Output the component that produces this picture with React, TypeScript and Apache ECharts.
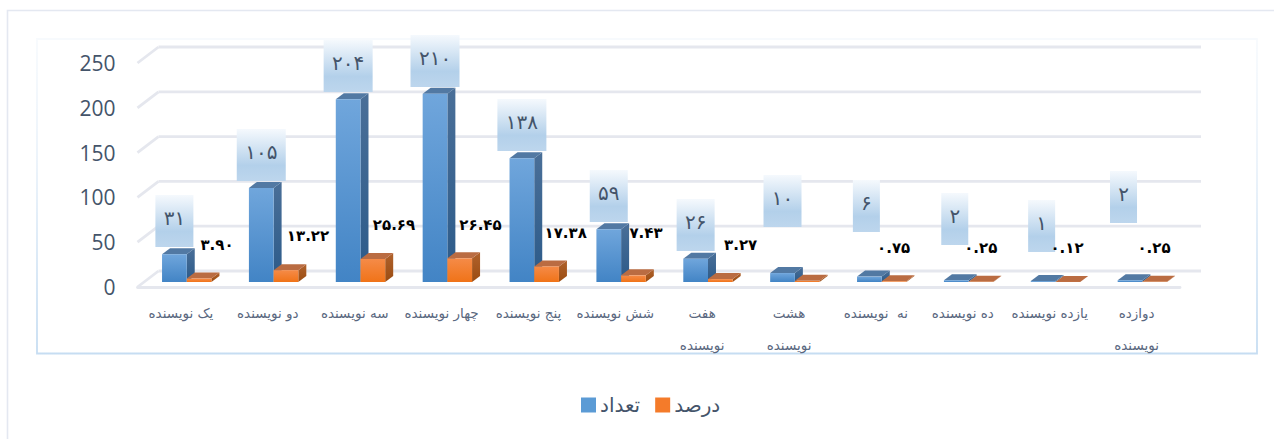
import React, { useEffect, useRef } from "react";
import * as echarts from "echarts";

const categories = [
  "یک نویسنده", "دو نویسنده", "سه نویسنده", "چهار نویسنده", "پنج نویسنده", "شش نویسنده",
  "هفت\nنویسنده", "هشت\nنویسنده", "نه  نویسنده", "ده نویسنده", "یازده نویسنده", "دوازده\nنویسنده",
];
const countValues = [31, 105, 204, 210, 138, 59, 26, 10, 6, 2, 1, 2];
const percentValues = [3.9, 13.22, 25.69, 26.45, 17.38, 7.43, 3.27, 1.26, 0.75, 0.25, 0.12, 0.25];
const countLabels = ["۳۱", "۱۰۵", "۲۰۴", "۲۱۰", "۱۳۸", "۵۹", "۲۶", "۱۰", "۶", "۲", "۱", "۲"];
const percentLabels = ["۳.۹۰", "۱۳.۲۲", "۲۵.۶۹", "۲۶.۴۵", "۱۷.۳۸", "۷.۴۳", "۳.۲۷", "", "۰.۷۵", "۰.۲۵", "۰.۱۲", "۰.۲۵"];
const yTicks = [0, 50, 100, 150, 200, 250];

// Hand placement of the data-label boxes, as in the original (box bottom, box x shift)
const countBoxBottom = [247, 181, 92, 87, 151, 222, 251, 227, 232, 245, 252, 223];
const countBoxShift = [0, 0, 0, 0, 0, 0, 0, 0, -3, -1.5, -1.5, -6.5];
const percentLabelX = [217, 308, 394, 480.5, 565.7, 646, 740.7, 0, 893.7, 980.8, 1067, 1154];
const percentLabelY = [245, 236, 225, 225, 233, 233, 245, 0, 248, 248, 248, 248];

const GRID = { left: 137.5, top: 63, width: 1042.5, height: 224 };
const SLATE = "#44546A";
const LINE = "#E5E7EE";
const BAR_W = 24.7;
const DX = 8;
const DY = 6;
const BASE_LIFT = 5;
const GROUP_SHIFT = 5.8;

const grad = (top: string, bottom: string) => ({
  type: "linear", x: 0, y: 0, x2: 0, y2: 1,
  colorStops: [{ offset: 0, color: top }, { offset: 1, color: bottom }],
});

const poly = (points: number[][], fill: any) => ({
  type: "polygon", shape: { points }, style: { fill },
});

function barRenderer(isCount: boolean) {
  return (params: any, api: any) => {
    const i = api.value(0);
    const v = api.value(1);
    const c = api.coord([i, v]);
    const zero = api.coord([i, 0]);
    const x0 = c[0] + GROUP_SHIFT + (isCount ? -BAR_W : 0);
    const x1 = x0 + BAR_W;
    const yTop = c[1] - BASE_LIFT;
    const yBase = zero[1] - BASE_LIFT;
    const children: any[] = [
      poly([[x1, yTop], [x1 + DX, yTop - DY], [x1 + DX, yBase - DY], [x1, yBase]],
        isCount ? grad("#4A6F98", "#2B5A89") : grad("#B0622C", "#9A4C12")),
      poly([[x0, yTop], [x0 + DX, yTop - DY], [x1 + DX, yTop - DY], [x1, yTop]],
        isCount ? "#5279A3" : "#BA6C42"),
      {
        type: "rect",
        shape: { x: x0, y: yTop, width: BAR_W, height: yBase - yTop },
        style: { fill: isCount ? grad("#70A6DC", "#4284C5") : grad("#F58B48", "#F07318") },
      },
    ];
    if (isCount) {
      const text = countLabels[i];
      const w = 16 + 11 * text.length;
      const bottom = countBoxBottom[i];
      const cx = (x0 + x1) / 2 + countBoxShift[i];
      children.push({
        type: "rect",
        shape: { x: cx - w / 2, y: bottom - 52, width: w, height: 52 },
        style: {
          fill: {
            type: "linear", x: 0, y: 0, x2: 0, y2: 1,
            colorStops: [
              { offset: 0, color: "#F5F9FD" },
              { offset: 0.7, color: "#B3D0EA" },
              { offset: 1, color: "#BDD6ED" },
            ],
          },
        },
      });
      children.push({
        type: "text",
        style: {
          text, x: cx, y: bottom - 29, align: "center", verticalAlign: "middle",
          fill: SLATE, font: "20px 'DejaVu Sans'",
        },
      });
    } else if (percentLabels[i]) {
      children.push({
        type: "text",
        style: {
          text: percentLabels[i], x: percentLabelX[i], y: percentLabelY[i],
          align: "center", verticalAlign: "middle",
          fill: "#000000", font: "bold 15px 'DejaVu Sans'",
        },
      });
    }
    return { type: "group", children };
  };
}

function gridRenderer(params: any, api: any) {
  const v = api.value(1);
  const y = api.coord([0, v])[1];
  const left = params.coordSys.x;
  const right = left + params.coordSys.width;
  const lineStyle = { stroke: LINE, lineWidth: 2.8, fill: "none" };
  return {
    type: "group",
    children: [
      { type: "line", shape: { x1: left, y1: y, x2: left + 21, y2: y - 16 }, style: lineStyle },
      { type: "line", shape: { x1: left + 21, y1: y - 16, x2: right + 21, y2: y - 16 }, style: lineStyle },
    ],
  };
}

export default function App() {
  const ref = useRef<HTMLDivElement>(null);
  useEffect(() => {
    const chart = echarts.init(ref.current!, null, { renderer: "svg" });
    chart.setOption({
      animation: false,
      backgroundColor: "#FFFFFF",
      textStyle: { fontFamily: "'DejaVu Sans'" },
      grid: { ...GRID, containLabel: false },
      xAxis: {
        type: "category",
        data: categories,
        axisTick: { show: false },
        axisLine: { lineStyle: { color: LINE, width: 2.8 } },
        axisLabel: {
          interval: 0, margin: 10, color: "#5A6880", fontSize: 13.5, lineHeight: 32,
          fontFamily: "'DejaVu Sans'",
        },
      },
      yAxis: {
        type: "value", min: 0, max: 250, interval: 50,
        axisLine: { show: false }, axisTick: { show: false }, splitLine: { show: false },
        axisLabel: { margin: 22, color: SLATE, fontSize: 21, fontFamily: "'Open Sans'" },
      },
      legend: {
        data: ["تعداد", "درصد"],
        left: 581, top: 395, padding: 0, itemWidth: 15, itemHeight: 15, itemGap: 15,
        icon: "rect",
        selectedMode: false,
        textStyle: { color: SLATE, fontSize: 20, fontFamily: "'DejaVu Sans'", padding: [0, 0, 0, -1] },
      },
      graphic: [
        {
          type: "polyline", silent: true, z: -1,
          shape: { points: [[7.5, 439], [7.5, 10.5], [1274, 10.5]] },
          style: { stroke: "#E4E8F1", lineWidth: 1.6, fill: "none" },
        },
        {
          type: "rect", silent: true, z: -1,
          shape: { x: 37, y: 39, width: 1220, height: 314.5 },
          style: {
            fill: "none", lineWidth: 1.8,
            stroke: {
              type: "linear", x: 0, y: 0, x2: 0, y2: 1,
              colorStops: [
                { offset: 0, color: "#F7FAFD" },
                { offset: 0.4, color: "#EAF2FA" },
                { offset: 1, color: "#C6DDF2" },
              ],
            },
          },
        },
      ],
      series: [
        {
          type: "custom", name: "grid", renderItem: gridRenderer, silent: true, z: 1,
          data: yTicks.map((t) => [0, t]),
        },
        {
          type: "custom", name: "تعداد", renderItem: barRenderer(true), z: 2,
          itemStyle: { color: "#5B9BD5" },
          data: countValues.map((v, i) => [i, v]),
        },
        {
          type: "custom", name: "درصد", renderItem: barRenderer(false), z: 3,
          itemStyle: { color: "#F47B2A" },
          data: percentValues.map((v, i) => [i, v]),
        },
      ],
    });
    return () => chart.dispose();
  }, []);
  return (
    <div
      ref={ref}
      style={{ position: "absolute", left: 0, top: 0, width: 1274, height: 439 }}
    />
  );
}
